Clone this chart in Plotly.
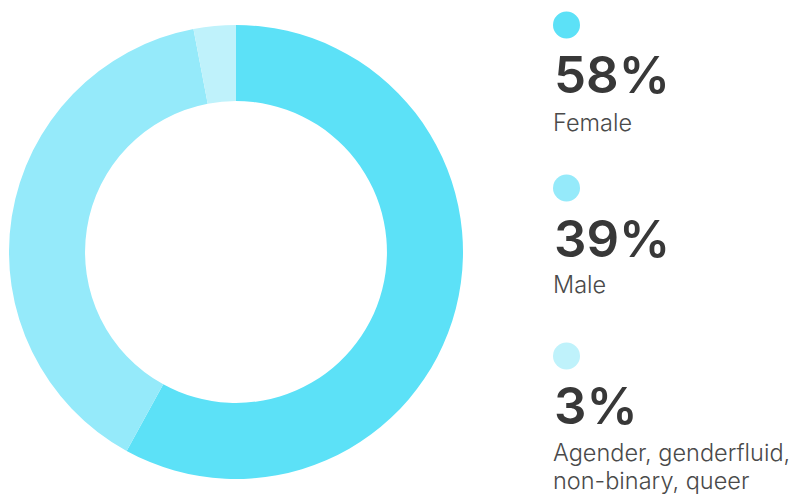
import plotly.graph_objects as go

labels = ["Female", "Male", "Agender, genderfluid,<br>non-binary, queer"]
values = [58, 39, 3]
colors = ["#5CE1F7", "#95EAFA", "#BFF2FB"]
pct_text = ["58%", "39%", "3%"]

# page has an 8px body margin; figure fills the rest of the 798x495 window
OFF = 8
W, H = 798 - OFF, 495 - OFF


def px(x):
    return (x - OFF) / W


def py(y):
    return (H - (y - OFF)) / H


fig = go.Figure()
fig.add_trace(go.Pie(
    labels=labels, values=values, hole=0.665, sort=False, direction="clockwise",
    rotation=0, marker=dict(colors=colors, line=dict(width=0)),
    textinfo="none", hoverinfo="label+percent", showlegend=False,
    domain=dict(x=[px(9), px(463)], y=[py(479), py(25)]),
))

# legend blocks (window pixel positions from top)
dot_y = [25, 188, 356]
pct_y = [75, 238, 405]
lab_y = [122, 285, 452]
line_gap = 28
dot_x, dot_r = 566.5, 13.5
text_x = 552

for i in range(3):
    fig.add_shape(type="circle", xref="paper", yref="paper",
                  x0=px(dot_x - dot_r), x1=px(dot_x + dot_r),
                  y0=py(dot_y[i] + dot_r), y1=py(dot_y[i] - dot_r),
                  fillcolor=colors[i], line=dict(width=0))
    fig.add_annotation(x=px(text_x), y=py(pct_y[i]), xref="paper", yref="paper",
                       text=pct_text[i], showarrow=False, xanchor="left", yanchor="middle",
                       align="left",
                       font=dict(family="Inter", size=51, color="#383838", weight=600))
    for j, line in enumerate(labels[i].split("<br>")):
        fig.add_annotation(x=px(text_x), y=py(lab_y[i] + j * line_gap), xref="paper", yref="paper",
                           text=line, showarrow=False, xanchor="left", yanchor="middle",
                           align="left", borderpad=0,
                           font=dict(family="Inter", size=23.5, color="#4a4a4a", weight=300))

fig.update_layout(width=W, height=H, margin=dict(l=0, r=0, t=0, b=0),
                  paper_bgcolor="white", plot_bgcolor="white")
fig.write_html("out.html")
